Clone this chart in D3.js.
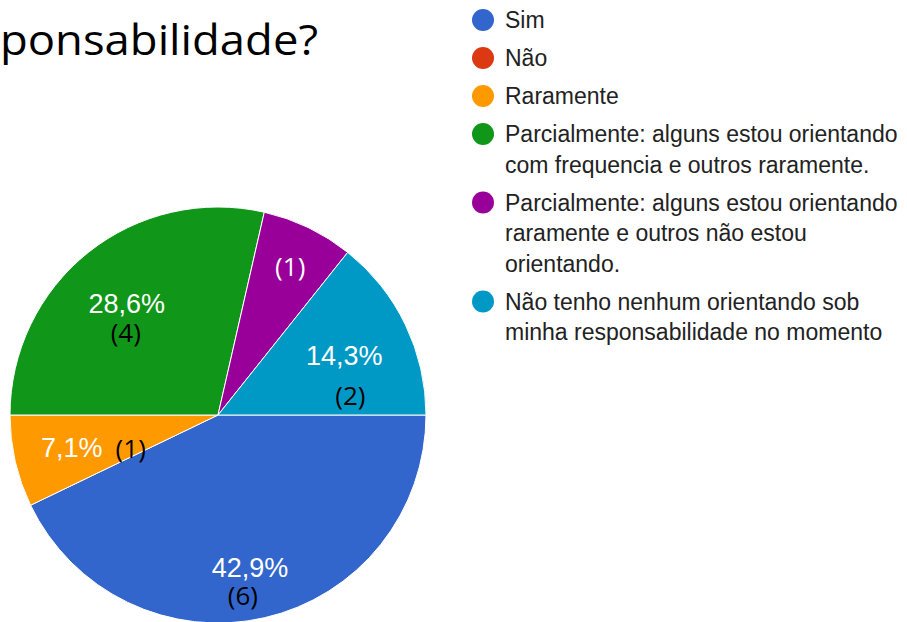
<!DOCTYPE html>
<html>
<head>
<meta charset="utf-8">
<script src="https://cdn.jsdelivr.net/npm/d3@7"></script>
<style>
  html, body { margin: 0; padding: 0; background: #fff; }
  svg { display: block; }
</style>
</head>
<body>
<div id="chart"></div>
<script>
// data
const categories = [
    "Sim",
    "Não",
    "Raramente",
    "Parcialmente: alguns estou orientando com frequencia e outros raramente.",
    "Parcialmente: alguns estou orientando raramente e outros não estou orientando.",
    "Não tenho nenhum orientando sob minha responsabilidade no momento"
]
const counts = [6, 0, 1, 4, 1, 2]
const percentLabels = ["42,9%", "", "7,1%", "28,6%", "", "14,3%"]
const legendLines = [
    ["Sim"],
    ["Não"],
    ["Raramente"],
    ["Parcialmente: alguns estou orientando", "com frequencia e outros raramente."],
    ["Parcialmente: alguns estou orientando", "raramente e outros não estou", "orientando."],
    ["Não tenho nenhum orientando sob", "minha responsabilidade no momento"]
]
const titleText = "ponsabilidade?"

const colors = ["#3366cc", "#dc3912", "#ff9900", "#109618", "#990099", "#0099c6"]

const width = 907, height = 622
const cx = 218, cy = 415, radius = 208

// small nudges of the labels away from the arc centroid (layout only)
const pctNudge = [[-1, 8], null, [-2, 0], [1, 4], [8, -15], [-7, 5]]
// where the "(n)" annotations sit relative to the percentage label
const countNudge = [
    { dx: -7, dy: 29, fill: "#000" },
    null,
    { dx: 59, dy: 1, fill: "#000" },
    { dx: -1, dy: 30, fill: "#000" },
    { dx: 0, dy: 0, fill: "#fff" },
    { dx: 6, dy: 40, fill: "#000" }
]

const svg = d3.select("#chart").append("svg")
    .attr("width", width)
    .attr("height", height)

// Title (cut off at the left in the original slide)
svg.append("text")
    .attr("x", 0)
    .attr("y", 55)
    .attr("font-family", "'Open Sans', sans-serif")
    .attr("font-size", 42)
    .attr("fill", "#000")
    .attr("textLength", 318)
    .attr("lengthAdjust", "spacingAndGlyphs")
    .text(titleText)

// Pie
const pie = d3.pie()
    .sort(null)
    .value(d => d)
    .startAngle(Math.PI / 2)
    .endAngle(Math.PI / 2 + 2 * Math.PI)

const arcs = pie(counts)
const arc = d3.arc().innerRadius(0).outerRadius(radius)
const labelArc = d3.arc().innerRadius(148).outerRadius(148)

const labelPos = d => {
    const [x, y] = labelArc.centroid(d)
    const n = pctNudge[d.index]
    return [x + n[0], y + n[1]]
}

const g = svg.append("g").attr("transform", `translate(${cx},${cy})`)

g.selectAll("path")
    .data(arcs.filter(d => d.value > 0))
    .join("path")
    .attr("d", arc)
    .attr("fill", d => colors[d.index])
    .attr("stroke", "#fff")
    .attr("stroke-width", 1)

// percentage labels
g.selectAll("text.pct")
    .data(arcs.filter(d => percentLabels[d.index]))
    .join("text")
    .attr("class", "pct")
    .attr("x", d => labelPos(d)[0])
    .attr("y", d => labelPos(d)[1])
    .attr("text-anchor", "middle")
    .attr("dy", "0.35em")
    .attr("font-family", "Arial, 'Liberation Sans', sans-serif")
    .attr("font-size", 27)
    .attr("fill", "#fff")
    .text(d => percentLabels[d.index])

// count annotations
g.selectAll("text.cnt")
    .data(arcs.filter(d => d.value > 0))
    .join("text")
    .attr("class", "cnt")
    .attr("x", d => labelPos(d)[0] + countNudge[d.index].dx)
    .attr("y", d => labelPos(d)[1] + countNudge[d.index].dy)
    .attr("text-anchor", "middle")
    .attr("dy", "0.35em")
    .attr("font-family", "'Open Sans', sans-serif")
    .attr("font-size", 26)
    .attr("fill", d => countNudge[d.index].fill)
    .text(d => `(${d.value})`)

// Legend
const lineH = 30.5, itemStep = 38
const legend = svg.append("g").attr("transform", "translate(483,20)")
let yPos = 0
categories.forEach((c, i) => {
    const item = legend.append("g").attr("transform", `translate(0,${yPos})`)
    item.append("circle")
        .attr("r", 11)
        .attr("fill", colors[i])
    item.selectAll("text")
        .data(legendLines[i])
        .join("text")
        .attr("x", 22)
        .attr("y", (d, j) => j * lineH)
        .attr("dy", "0.35em")
        .attr("font-family", "Arial, 'Liberation Sans', sans-serif")
        .attr("font-size", 23)
        .attr("fill", "#222")
        .text(d => d)
    yPos += (legendLines[i].length - 1) * lineH + itemStep
})
</script>
</body>
</html>
